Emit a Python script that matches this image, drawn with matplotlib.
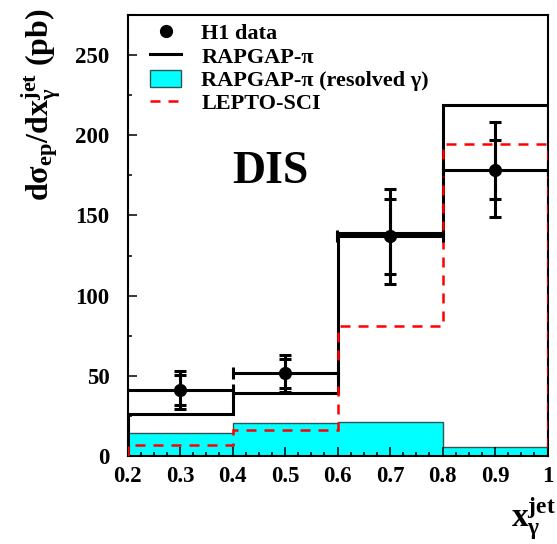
import numpy as np
import matplotlib
matplotlib.use("Agg")
import matplotlib.pyplot as plt
from matplotlib.lines import Line2D
from matplotlib.patches import Patch
from matplotlib.legend_handler import HandlerLine2D
from matplotlib.ticker import MultipleLocator, FixedLocator, FixedFormatter

# ---------------- data ----------------
bin_edges = [0.2, 0.4, 0.6, 0.8, 1.0]
bin_centers = [0.3, 0.5, 0.7, 0.9]
h1_data = [41.0, 51.5, 137.0, 178.5]
h1_stat_err = [9.5, 9.0, 23.5, 18.5]
h1_tot_err = [12.0, 11.5, 29.5, 29.5]
rapgap_pi = [26.5, 39.0, 139.0, 219.0]
rapgap_pi_resolved = [14.6, 20.7, 21.2, 5.4]
lepto_sci = [7.0, 16.2, 81.0, 194.7]

x_ticks = [0.2, 0.3, 0.4, 0.5, 0.6, 0.7, 0.8, 0.9, 1.0]
x_tick_labels = ["0.2", "0.3", "0.4", "0.5", "0.6", "0.7", "0.8", "0.9", "1"]
y_ticks = [0, 50, 100, 150, 200, 250]
y_tick_labels = ["0", "50", "100", "150", "200", "250"]

legend_labels = ["H1 data", "RAPGAP-\u03c0", "RAPGAP-\u03c0 (resolved \u03b3)", "LEPTO-SCI"]

# ---------------- style ----------------
plt.rcParams["font.family"] = ["Liberation Serif", "DejaVu Serif"]
plt.rcParams["font.weight"] = "bold"
plt.rcParams["mathtext.fontset"] = "custom"
plt.rcParams["mathtext.rm"] = "Liberation Serif:bold"
plt.rcParams["mathtext.it"] = "Liberation Serif:bold"
plt.rcParams["mathtext.bf"] = "Liberation Serif:bold"
plt.rcParams["mathtext.fallback"] = "stix"

W, H = 557, 544
fig = plt.figure(figsize=(W / 100, H / 100), dpi=100)
ax = fig.add_axes([127.5 / W, 1 - 456 / H, (547.5 - 127.5) / W, (456 - 15) / H])

cyan = "#00ffff"
edge_dark = "#2f5555"

ax.stairs(rapgap_pi_resolved, bin_edges, baseline=0, fill=True,
          facecolor=cyan, edgecolor=edge_dark, lw=1.0, zorder=1)
ax.stairs(rapgap_pi, bin_edges, baseline=0, color="black", lw=2.2, zorder=2)
ax.stairs(lepto_sci, bin_edges, baseline=0, color="#ff0000", lw=1.8,
          linestyle=(0, (4, 3.2)), zorder=3)

half_w = np.diff(bin_edges) / 2
ax.errorbar(bin_centers, h1_data, yerr=h1_tot_err, xerr=half_w, fmt="o",
            color="black", ms=8.5, lw=2.2, capsize=4, capthick=2.2, zorder=5)
ax.errorbar(bin_centers, h1_data, yerr=h1_stat_err, fmt="none",
            ecolor="black", lw=2.2, capsize=4, capthick=2.2, zorder=5)

ax.set_xlim(0.2, 1.0)
ax.set_ylim(0, 275)

ax.xaxis.set_major_locator(FixedLocator(x_ticks))
ax.xaxis.set_major_formatter(FixedFormatter(x_tick_labels))
ax.yaxis.set_major_locator(FixedLocator(y_ticks))
ax.yaxis.set_major_formatter(FixedFormatter(y_tick_labels))
ax.xaxis.set_minor_locator(MultipleLocator(0.025))
ax.yaxis.set_minor_locator(MultipleLocator(25))
ax.tick_params(which="both", direction="in", top=False, right=False,
               width=1.1, colors="black")
ax.tick_params(which="major", length=6.5)
ax.tick_params(which="minor", length=3.2)
ax.tick_params(axis="x", which="major", pad=7, labelsize=16.5)
ax.tick_params(axis="y", which="major", pad=13, labelsize=16.5)
for s in ax.spines.values():
    s.set_linewidth(1.5)

# DIS label
ax.text(0.34, 0.643, "DIS", transform=ax.transAxes, ha="center", va="center",
        fontsize=33, fontweight="bold")

# axis titles
fig.text(41 / W, 1 - 8 / H, r"$\mathrm{d\sigma_{ep}/dx_{\gamma}^{jet}}$ (pb)",
         rotation=90, ha="center", va="top", fontsize=23)
fig.text(556 / W, 2 / H, r"$\mathrm{x_{\gamma}^{jet}}$",
         ha="right", va="bottom", fontsize=24)


class RightMarkerHandler(HandlerLine2D):
    def get_xdata(self, legend, xdescent, ydescent, width, height, fontsize):
        xd = np.array([-xdescent, -xdescent + width])
        return xd, np.array([-xdescent + width * 0.97])


h_data = Line2D([], [], marker="o", color="black", ls="none", ms=8.5)
h_rap = Line2D([], [], color="black", lw=2.2)
h_res = Patch(facecolor=cyan, edgecolor=edge_dark, lw=1.0)
h_lep = Line2D([], [], color="#ff0000", lw=1.8, linestyle=(0, (4, 3.2)))

leg = ax.legend([h_data, h_rap, h_res, h_lep], legend_labels,
                loc="upper left", bbox_to_anchor=((150 - 127.5) / 420, 0.982),
                frameon=False, fontsize=16, handlelength=1.4, handleheight=0.8,
                handletextpad=0.9, labelspacing=0.1, borderpad=0, borderaxespad=0,
                handler_map={h_data: RightMarkerHandler(numpoints=1)})

fig.savefig("out.png", dpi=100)
